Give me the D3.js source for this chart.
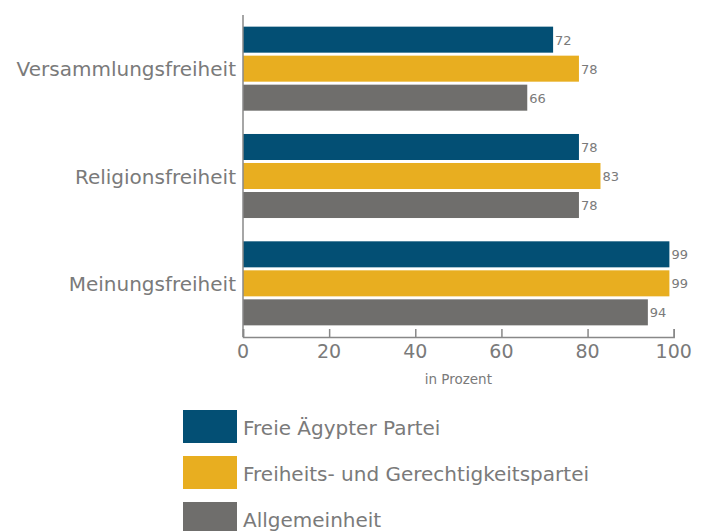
<!DOCTYPE html>
<html>
<head>
<meta charset="utf-8">
<script src="https://cdn.jsdelivr.net/npm/d3@7"></script>
<style>
  body { margin: 0; background: #fff; }
  svg { display: block; font-family: "DejaVu Sans", Verdana, sans-serif; }
</style>
</head>
<body>
<div id="chart"></div>
<script>
const width = 705;
const height = 531;

// Kategorien und Werte (in Prozent)
const categories = ["Versammlungsfreiheit", "Religionsfreiheit", "Meinungsfreiheit"];
const seriesNames = ["Freie Ägypter Partei", "Freiheits- und Gerechtigkeitspartei", "Allgemeinheit"];
const freieAegypter = [72, 78, 99];
const fjp = [78, 83, 99];
const allgemeinheit = [66, 78, 94];
const xTicks = [0, 20, 40, 60, 80, 100];

const seriesValues = [freieAegypter, fjp, allgemeinheit];
const colors = ["#034f74", "#e8ae20", "#6f6e6c"];
const textColor = "#7a7a7a";

const margin = {top: 15, left: 243, right: 32};
const plotBottom = 337;

const x = d3.scaleLinear()
    .domain([0, 100])
    .range([margin.left, width - margin.right + 0.7]);

const y0 = d3.scaleBand()
    .domain(categories)
    .range([margin.top, plotBottom])
    .paddingInner(0.217)
    .paddingOuter(0.1085);

const y1 = d3.scaleBand()
    .domain(d3.range(seriesNames.length))
    .range([0, y0.bandwidth()])
    .paddingInner(0.103)
    .paddingOuter(0);

const svg = d3.create("svg")
    .attr("width", width)
    .attr("height", height);

// Balken
const group = svg.append("g")
  .selectAll("g")
  .data(categories)
  .join("g")
    .attr("transform", d => `translate(0,${y0(d)})`);

const bars = group.selectAll("g.bar")
  .data((c, ci) => seriesValues.map((vals, si) => ({s: si, v: vals[ci]})))
  .join("g")
    .attr("class", "bar");

bars.append("rect")
    .attr("x", x(0))
    .attr("y", d => y1(d.s))
    .attr("width", d => x(d.v) - x(0))
    .attr("height", y1.bandwidth())
    .attr("fill", d => colors[d.s]);

bars.append("text")
    .attr("x", d => x(d.v) + 2)
    .attr("y", d => y1(d.s) + y1.bandwidth() / 2)
    .attr("dy", "0.38em")
    .attr("fill", textColor)
    .style("font-size", "13px")
    .text(d => d.v);

// Kategorie-Beschriftungen
svg.append("g")
  .selectAll("text")
  .data(categories)
  .join("text")
    .attr("x", margin.left - 7)
    .attr("y", d => y0(d) + y0.bandwidth() / 2)
    .attr("dy", "0.38em")
    .attr("text-anchor", "end")
    .attr("fill", textColor)
    .style("font-size", "20px")
    .text(d => d);

// y-Achsenlinie
svg.append("line")
    .attr("x1", x(0)).attr("x2", x(0))
    .attr("y1", margin.top).attr("y2", plotBottom)
    .attr("stroke", "#888")
    .attr("stroke-width", 1.5);

// x-Achse (Ticks nach innen)
const xAxis = svg.append("g")
    .attr("transform", `translate(0,${plotBottom})`)
    .call(d3.axisTop(x).tickValues(xTicks).tickSize(8).tickFormat(""));
xAxis.select(".domain").attr("stroke", "#888").attr("stroke-width", 1.5);
xAxis.selectAll(".tick line").attr("stroke", "#888").attr("stroke-width", 1.5);

svg.append("g")
  .selectAll("text")
  .data(xTicks)
  .join("text")
    .attr("x", d => x(d))
    .attr("y", 358)
    .attr("text-anchor", "middle")
    .attr("fill", textColor)
    .style("font-size", "19px")
    .text(d => d);

svg.append("text")
    .attr("x", (x(0) + x(100)) / 2)
    .attr("y", 384)
    .attr("text-anchor", "middle")
    .attr("fill", textColor)
    .style("font-size", "13.5px")
    .text("in Prozent");

// Legende
const legend = svg.append("g")
  .selectAll("g")
  .data(seriesNames)
  .join("g")
    .attr("transform", (d, i) => `translate(183,${410 + i * 46})`);

legend.append("rect")
    .attr("width", 54)
    .attr("height", 33)
    .attr("fill", (d, i) => colors[i]);

legend.append("text")
    .attr("x", 60)
    .attr("y", 17)
    .attr("dy", "0.38em")
    .attr("fill", textColor)
    .style("font-size", "20px")
    .text(d => d);

document.getElementById("chart").appendChild(svg.node());
</script>
</body>
</html>
